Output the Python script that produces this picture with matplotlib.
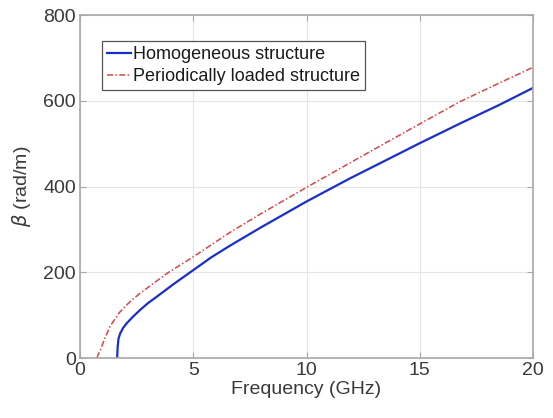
import numpy as np
import matplotlib
matplotlib.use('Agg')
from matplotlib import pyplot as plt

freq_homog = [1.64, 1.66, 1.70, 1.77, 1.90, 2.06, 2.35, 2.65, 3.0, 3.39, 4.12,
              5.0, 5.8, 6.62, 8.0, 10.0, 11.92, 13.5, 15.0, 16.78, 18.5, 20.0]
beta_homog = [0, 25, 45, 57, 70, 81, 97, 112, 128, 143, 172,
              205, 235, 262, 305, 365, 419, 461, 501, 547, 590, 630]

freq_period = [0.75, 0.80, 0.90, 1.05, 1.32, 1.5, 1.77, 2.2, 2.65, 3.83,
               5.0, 6.62, 8.0, 10.0, 11.48, 13.5, 15.0, 16.78, 18.5, 20.0]
beta_period = [0, 8, 18, 40, 73, 88, 108, 131, 151, 197,
               236, 293, 337, 398, 442, 502, 546, 598, 641, 678]

x_ticks = [0, 5, 10, 15, 20]
y_ticks = [0, 200, 400, 600, 800]

plt.rcParams['font.family'] = ['Liberation Sans', 'DejaVu Sans']
text_col = '#3a3a3a'
axis_col = '#a8a8a8'

fig = plt.figure(figsize=(5.53, 4.18), dpi=100)
ax = fig.add_axes([0.1447, 0.1435, 0.8191, 0.8206])

ax.plot(freq_homog, beta_homog, color='#1a2fc8', linewidth=1.6,
        label='Homogeneous structure')
ax.plot(freq_period, beta_period, color='#d8454a', linewidth=1.1,
        linestyle=(0, (4, 1.5, 1, 1.5)), label='Periodically loaded structure')

ax.set_xlim(0, 20)
ax.set_ylim(0, 800)
ax.set_xticks(x_ticks)
ax.set_yticks(y_ticks)
ax.grid(True, color='#e6e6e6', linewidth=0.8)
ax.set_axisbelow(True)

for side in ['top', 'bottom', 'left', 'right']:
    ax.spines[side].set_color(axis_col)
    ax.spines[side].set_linewidth(1.2)
ax.tick_params(direction='in', top=True, right=True, length=4,
               color=axis_col, labelsize=14, labelcolor=text_col, pad=3)

ax.set_xlabel('Frequency (GHz)', fontsize=14, color=text_col, labelpad=1)
ax.set_ylabel(r'$\beta$ (rad/m)', fontsize=14, color=text_col, labelpad=7)

leg = ax.legend(loc='upper left', bbox_to_anchor=(0.0486, 0.924),
                borderaxespad=0, fontsize=13, fancybox=False, framealpha=1,
                edgecolor='#555555', handlelength=1.3, handletextpad=0.1,
                borderpad=0.3, labelspacing=0.25)
leg.get_frame().set_linewidth(0.9)
for t in leg.get_texts():
    t.set_color('#1a1a1a')

fig.savefig('out.png', dpi=100)
